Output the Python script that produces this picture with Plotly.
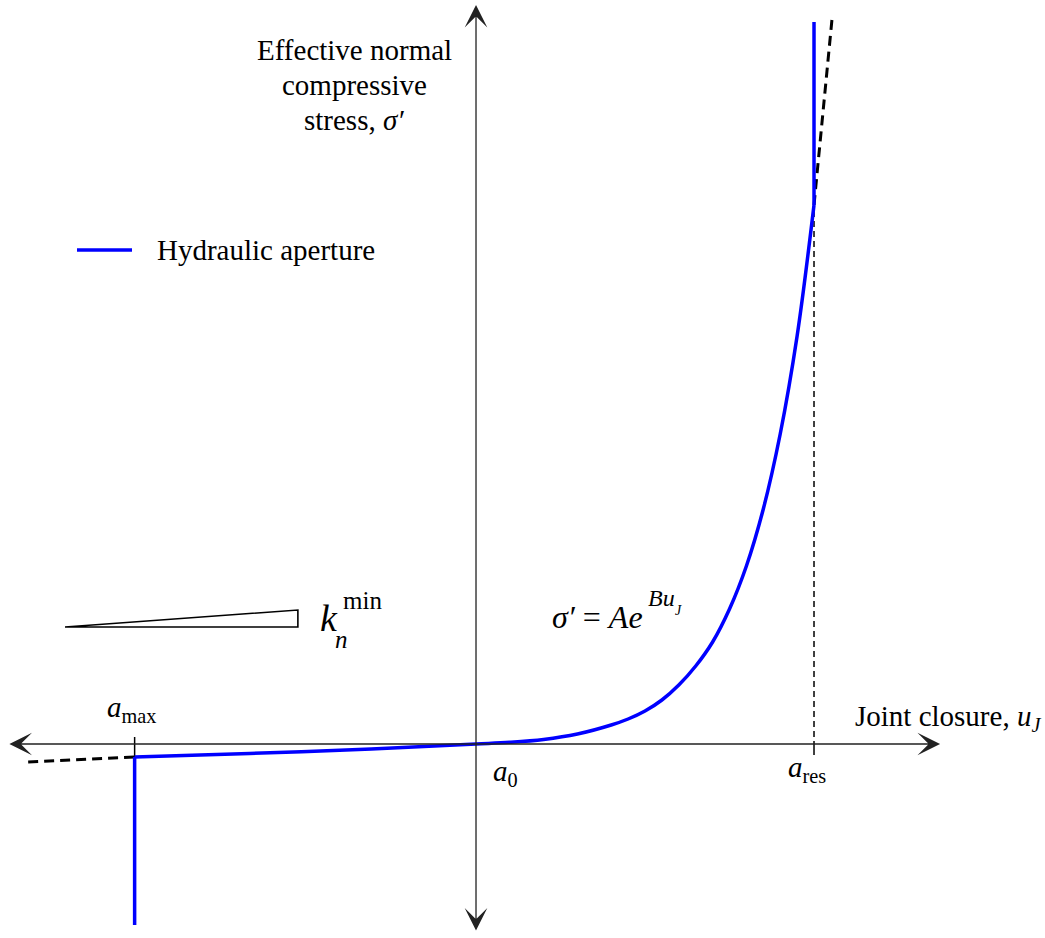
import plotly.graph_objects as go

W, H = 1045, 938
FONT = "Liberation Serif"
BLUE = "#0000ff"

# ---- data (u: joint closure, normalised so a0 = 0, a_res = 1; sigma': stress, arbitrary units)
u_curve = [-1.01, -0.67, -0.31, 0.0, 0.1, 0.2, 0.3, 0.4, 0.45, 0.5, 0.55, 0.6, 0.65,
           0.7, 0.75, 0.8, 0.85, 0.9, 0.95, 1.0]
s_curve = [-0.13, -0.095, -0.05, 0.0, 0.017, 0.046, 0.1, 0.19, 0.25, 0.33, 0.44, 0.59,
           0.78, 1.02, 1.35, 1.78, 2.35, 3.1, 4.08, 5.39]
u_res_vert = [1.0, 1.0]
s_res_vert = [5.39, 7.22]
u_max_vert = [-1.01, -1.01]
s_max_vert = [-0.13, -1.81]
u_ext_left = [-1.325, -1.01]
s_ext_left = [-0.18, -0.13]
u_ext_top = [1.0, 1.027, 1.053]
s_ext_top = [5.39, 6.3, 7.24]
u_tri = [-1.216, -0.527, -0.527, -1.216]
s_tri = [1.17, 1.34, 1.17, 1.17]
a_max, a0, a_res = -1.01, 0.0, 1.0
x_range = [-1.4083, 1.6834]
y_range = [-1.94, 7.44]
x_axis_span = [-1.385, 1.373]
y_axis_span = [-1.88, 7.39]


def fx(px):
    return px / W


def fy(py):
    return 1 - py / H


fig = go.Figure()

# black dashed extensions
fig.add_trace(go.Scatter(x=u_ext_left, y=s_ext_left, mode="lines",
                         line=dict(color="black", width=3, dash="10px,6px"),
                         showlegend=False, hoverinfo="skip"))
fig.add_trace(go.Scatter(x=u_ext_top, y=s_ext_top, mode="lines",
                         line=dict(color="black", width=3, dash="10px,6px"),
                         showlegend=False, hoverinfo="skip"))

# dashed vertical at a_res and ticks
fig.add_trace(go.Scatter(x=[a_res, a_res], y=[5.33, 0.0], mode="lines",
                         line=dict(color="black", width=1.5, dash="6px,4px"),
                         showlegend=False, hoverinfo="skip"))
fig.add_trace(go.Scatter(x=[a_res, a_res], y=[0.0, -0.11], mode="lines",
                         line=dict(color="black", width=1.5),
                         showlegend=False, hoverinfo="skip"))
fig.add_trace(go.Scatter(x=[a_max, a_max], y=[0.07, -0.13], mode="lines",
                         line=dict(color="black", width=1.5),
                         showlegend=False, hoverinfo="skip"))

# slope triangle
fig.add_trace(go.Scatter(x=u_tri, y=s_tri, mode="lines",
                         line=dict(color="black", width=1.6),
                         showlegend=False, hoverinfo="skip"))

# blue hydraulic aperture curve
fig.add_trace(go.Scatter(x=u_curve, y=s_curve, mode="lines",
                         line=dict(color=BLUE, width=3.5, shape="spline", smoothing=1.0),
                         name="Hydraulic aperture", showlegend=False, hoverinfo="skip"))
fig.add_trace(go.Scatter(x=u_res_vert, y=s_res_vert, mode="lines",
                         line=dict(color=BLUE, width=3.5),
                         showlegend=False, hoverinfo="skip"))
fig.add_trace(go.Scatter(x=u_max_vert, y=s_max_vert, mode="lines",
                         line=dict(color=BLUE, width=3.5),
                         showlegend=False, hoverinfo="skip"))

ann = []
# axes arrows
arrow_common = dict(xref="x", yref="y", axref="x", ayref="y", text="", showarrow=True,
                    arrowhead=3, startarrowhead=3, arrowside="end+start",
                    arrowwidth=1.3, arrowsize=2.9, startarrowsize=2.9,
                    arrowcolor="#222222", standoff=0, startstandoff=0)
ann.append(dict(x=x_axis_span[1], y=0, ax=x_axis_span[0], ay=0, **arrow_common))
ann.append(dict(x=0, y=y_axis_span[1], ax=0, ay=y_axis_span[0], **arrow_common))


def txt(text, px, py, size=29, xanchor="center", yanchor="middle", align="center"):
    ann.append(dict(text=text, x=fx(px), y=fy(py), xref="paper", yref="paper",
                    showarrow=False, xanchor=xanchor, yanchor=yanchor, align=align,
                    font=dict(family=FONT, size=size, color="black")))


# y axis title
txt("Effective normal", 354, 50)
txt("compressive", 354, 85)
txt("stress, <i>σ′</i>", 354, 120)
# x axis title
txt("Joint closure, <i>u</i><sub><i>J</i></sub>", 853, 718, xanchor="left")
# tick labels
txt("<i>a</i><sub>max</sub>", 131, 709)
txt("<i>a</i><sub>0</sub>", 505, 773)
txt("<i>a</i><sub>res</sub>", 807, 769)
# legend
txt("Hydraulic aperture", 155, 250, xanchor="left")
# k_n^min
txt("<i>k</i>", 318, 618, size=38, xanchor="left")
txt("<i>n</i>", 333, 639, size=25, xanchor="left")
txt("min", 341, 600, size=25, xanchor="left")
# formula
txt("<i>σ′</i> = <i>Ae</i>", 550, 617, size=32, xanchor="left")
txt("<i>Bu</i>", 646, 598, size=24, xanchor="left")
txt("<i>J</i>", 673, 610, size=14, xanchor="left")

shapes = [dict(type="line", xref="paper", yref="paper", x0=fx(77), x1=fx(132),
               y0=fy(250), y1=fy(250), line=dict(color=BLUE, width=3.5))]

fig.update_layout(
    width=W, height=H, margin=dict(l=0, r=0, t=0, b=0),
    paper_bgcolor="white", plot_bgcolor="white",
    xaxis=dict(range=x_range, visible=False, fixedrange=True),
    yaxis=dict(range=y_range, visible=False, fixedrange=True),
    annotations=ann, shapes=shapes, showlegend=False,
)

fig.write_html("out.html")
